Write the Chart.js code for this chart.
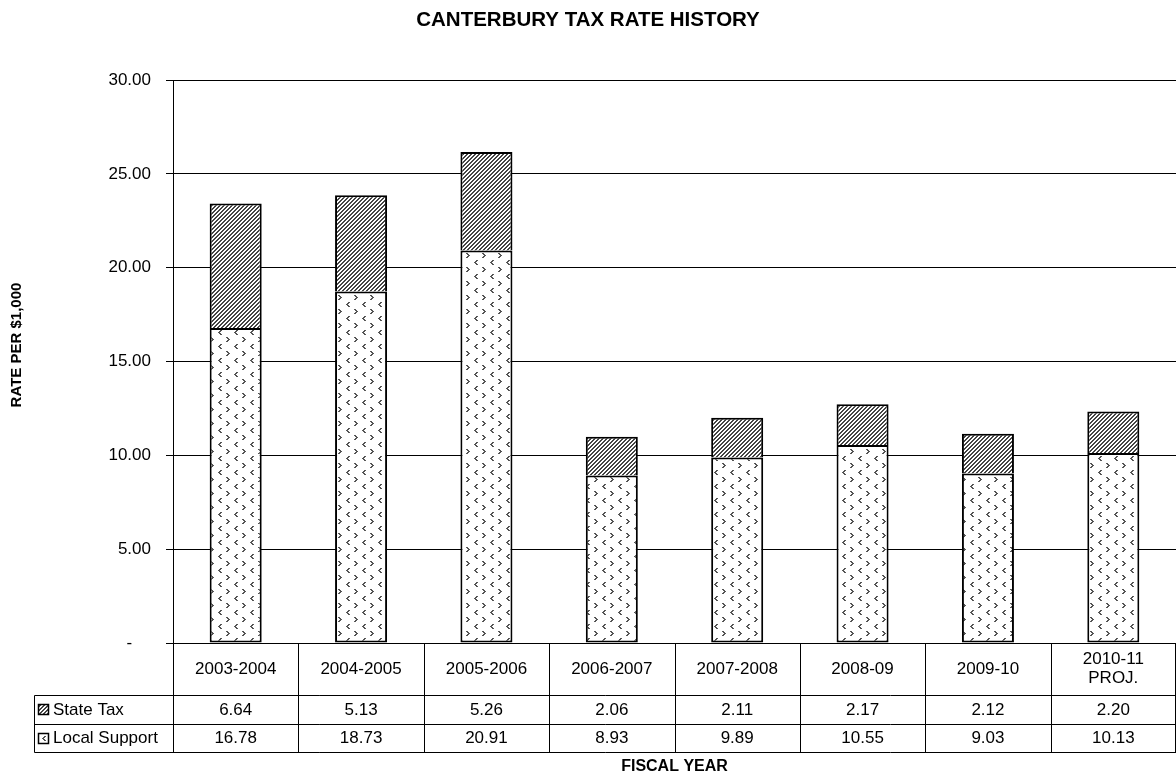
<!DOCTYPE html>
<html>
<head>
<meta charset="utf-8">
<title>Canterbury Tax Rate History</title>
<script src="https://cdn.jsdelivr.net/npm/chart.js@4/dist/chart.umd.min.js"></script>
<style>
  body { margin: 0; background: #fff; }
  canvas { display: block; }
</style>
</head>
<body>
<canvas id="taxChart" width="1176" height="776"></canvas>
<script>
const years = ["2003-2004", "2004-2005", "2005-2006", "2006-2007", "2007-2008", "2008-09", "2009-10", ["2010-11", "PROJ."]];
const stateTax = [6.64, 5.13, 5.26, 2.06, 2.11, 2.17, 2.12, 2.20];
const localSupport = [16.78, 18.73, 20.91, 8.93, 9.89, 10.55, 9.03, 10.13];
const yTickLabels = ["-", "5.00", "10.00", "15.00", "20.00", "25.00", "30.00"];

const FONT = '"Liberation Sans", Arial, sans-serif';
const canvas = document.getElementById("taxChart");
const ctx = canvas.getContext("2d");

// diagonal hatch for the state tax part
function makeStripes() {
  const c = document.createElement("canvas");
  c.width = 4;
  c.height = 4;
  const g = c.getContext("2d");
  g.fillStyle = "#fff";
  g.fillRect(0, 0, 4, 4);
  g.fillStyle = "#444";
  for (let y = 0; y < 4; y++) {
    for (let x = 0; x < 4; x++) {
      if ((x + y) % 4 < 2) g.fillRect(x, y, 1, 1);
    }
  }
  return ctx.createPattern(c, "repeat");
}

// small > and < marks for the local support part
function makeChevrons() {
  const c = document.createElement("canvas");
  c.width = 16;
  c.height = 14;
  const g = c.getContext("2d");
  g.fillStyle = "#fff";
  g.fillRect(0, 0, 16, 14);
  g.fillStyle = "#555";
  const right = [[0, 0], [1, 0], [1, 1], [2, 1], [2, 2], [3, 2], [1, 3], [2, 3], [0, 4], [1, 4]];
  const left = [[2, 0], [3, 0], [1, 1], [2, 1], [0, 2], [1, 2], [1, 3], [2, 3], [2, 4], [3, 4]];
  right.forEach(([x, y]) => g.fillRect(2 + x, 1 + y, 1, 1));
  left.forEach(([x, y]) => g.fillRect(10 + x, 8 + y, 1, 1));
  return ctx.createPattern(c, "repeat");
}

const stripes = makeStripes();
const chevrons = makeChevrons();

// data table under the plot, plus both axis titles
const dataTable = {
  id: "dataTable",
  afterDraw(chart) {
    const { ctx, chartArea, scales } = chart;
    const left = chartArea.left;
    const right = chartArea.right;
    const top = chartArea.bottom;
    const headH = 52;
    const rowH = 28.5;
    const legendLeft = 34;
    const colW = (right - left) / years.length;
    const r1 = top + headH;
    const r2 = r1 + rowH;
    const bottom = r2 + rowH;
    const px = (v) => Math.round(v) + 0.5;

    ctx.save();
    ctx.strokeStyle = "#000";
    ctx.lineWidth = 1;
    ctx.beginPath();
    ctx.moveTo(px(left), px(top));
    ctx.lineTo(right, px(top));
    [r1, r2, bottom].forEach((y) => {
      ctx.moveTo(px(legendLeft), px(y));
      ctx.lineTo(right, px(y));
    });
    for (let k = 0; k <= years.length; k++) {
      const x = Math.min(px(left + k * colW), right - 0.5);
      ctx.moveTo(x, px(top));
      ctx.lineTo(x, px(bottom));
    }
    ctx.moveTo(px(legendLeft), px(r1));
    ctx.lineTo(px(legendLeft), px(bottom));
    ctx.stroke();

    ctx.fillStyle = "#000";
    ctx.font = "17px " + FONT;
    ctx.textAlign = "center";
    ctx.textBaseline = "middle";
    years.forEach((label, i) => {
      const cx = scales.x.getPixelForValue(i);
      const lines = Array.isArray(label) ? label : [label];
      lines.forEach((t, j) => {
        ctx.fillText(t, cx, top + headH / 2 + (j - (lines.length - 1) / 2) * 19);
      });
      ctx.fillText(stateTax[i].toFixed(2), cx, r1 + rowH / 2 + 1);
      ctx.fillText(localSupport[i].toFixed(2), cx, r2 + rowH / 2 + 1);
    });

    // series keys in the first column
    const rows = [
      { y: r1, name: "State Tax", fill: stripes },
      { y: r2, name: "Local Support", fill: chevrons },
    ];
    rows.forEach((row) => {
      const by = Math.round(row.y + rowH / 2 - 5);
      ctx.fillStyle = row.fill;
      ctx.fillRect(38, by, 10, 10);
      ctx.lineWidth = 1.5;
      ctx.strokeRect(38.5, by + 0.5, 10, 10);
      ctx.fillStyle = "#000";
      ctx.textAlign = "left";
      ctx.fillText(row.name, 53, row.y + rowH / 2 + 1);
    });

    ctx.font = "bold 16px " + FONT;
    ctx.textAlign = "center";
    ctx.fillText("FISCAL YEAR", (left + right) / 2, 767);

    ctx.font = "bold 15px " + FONT;
    ctx.translate(17, 345);
    ctx.rotate(-Math.PI / 2);
    ctx.fillText("RATE PER $1,000", 0, 0);
    ctx.restore();
  },
};

new Chart(ctx, {
  type: "bar",
  data: {
    labels: years,
    datasets: [
      {
        label: "Local Support",
        data: localSupport,
        backgroundColor: chevrons,
        borderColor: "#000",
        borderWidth: 2,
        borderSkipped: false,
      },
      {
        label: "State Tax",
        data: stateTax,
        backgroundColor: stripes,
        borderColor: "#000",
        borderWidth: 2,
        borderSkipped: "start",
      },
    ],
  },
  options: {
    responsive: false,
    animation: false,
    categoryPercentage: 1,
    barPercentage: 0.415,
    layout: { padding: { top: 0, left: 0, right: 0, bottom: 133 } },
    plugins: {
      legend: { display: false },
      tooltip: { enabled: false },
      title: {
        display: true,
        text: "CANTERBURY TAX RATE HISTORY",
        color: "#000",
        font: { family: FONT, size: 20.5, weight: "bold" },
        padding: { top: 8, bottom: 47.4 },
      },
    },
    scales: {
      x: {
        stacked: true,
        display: false,
      },
      y: {
        stacked: true,
        min: 0,
        max: 30,
        afterFit: (scale) => {
          scale.width = 173;
        },
        ticks: {
          stepSize: 5,
          color: "#000",
          padding: 15,
          font: { family: FONT, size: 17 },
          callback: (value, index) => {
            const t = yTickLabels[index];
            return t === "-" ? "-    " : t;
          },
        },
        grid: {
          color: "#000",
          lineWidth: 1,
          drawTicks: true,
          tickLength: 7,
          tickColor: "#000",
        },
        border: { display: true, color: "#000", width: 1 },
      },
    },
  },
  plugins: [dataTable],
});
</script>
</body>
</html>
